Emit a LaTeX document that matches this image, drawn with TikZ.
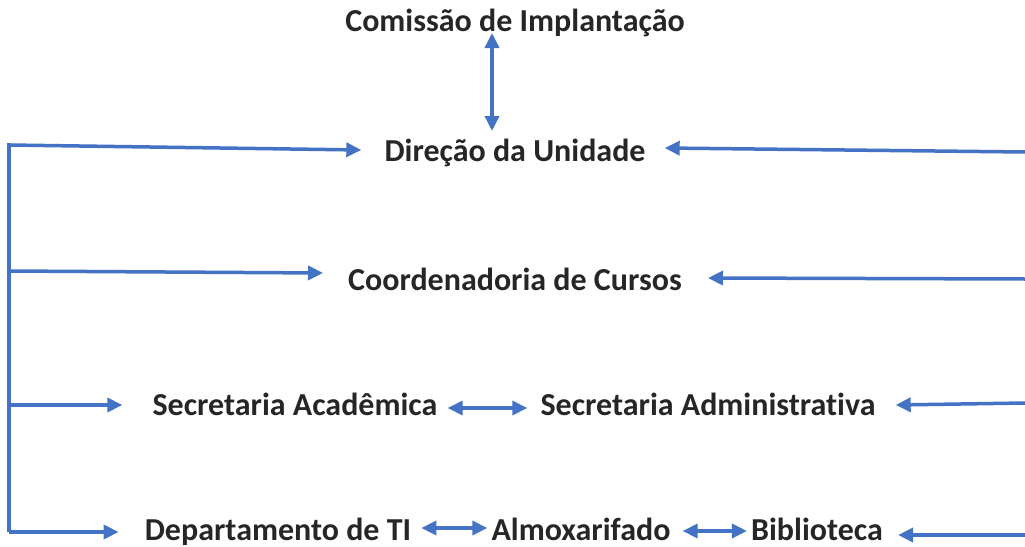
\documentclass[tikz,border=0pt]{standalone}
\usepackage{fontspec}
\setmainfont{Carlito}[Ligatures={NoCommon}]
\usetikzlibrary{arrows.meta,calc}
\definecolor{txt}{HTML}{262626}
\definecolor{ln}{HTML}{4472C4}
\tikzset{
  lbl/.style={font=\fontsize{32}{36}\selectfont\bfseries, text=txt, inner sep=0pt, anchor=base},
  conn/.style={draw=ln, line width=3.5pt, -{Triangle[length=15pt,width=14pt]}},
  dconn/.style={draw=ln, line width=3.5pt, {Triangle[length=15pt,width=14pt]}-{Triangle[length=15pt,width=14pt]}},
  bar/.style={draw=ln, line width=3.5pt}
}
\begin{document}
\begin{tikzpicture}[x=1pt,y=-1pt]
\useasboundingbox (0,0) rectangle (1025,546);
\node[lbl] (comissao) at (515,31) {Comissão de Implantação};
\node[lbl] (direcao) at (515,161) {Direção da Unidade};
\node[lbl] (coord) at (515,290) {Coordenadoria de Cursos};
\node[lbl] (secac) at (295,415) {Secretaria Acadêmica};
\node[lbl] (secadm) at (708,415) {Secretaria Administrativa};
\node[lbl] (depto) at (278,540) {Departamento de TI};
\node[lbl] (almox) at (581,540) {Almoxarifado};
\node[lbl] (biblio) at (817,540) {Biblioteca};
% free ends
\coordinate (btop) at (9,143);
\coordinate (b1) at (9,145);
\coordinate (b2) at (9,271);
\coordinate (b3) at (9,405);
\coordinate (b4) at (9,532);
\coordinate (r1) at (1025,152);
\coordinate (r2) at (1025,279);
\coordinate (r3) at (1025,403);
\coordinate (r4) at (1025,535);
\coordinate (vtop) at (492,33);
\coordinate (vbot) at (492,131);
% vertical double arrow
\draw[dconn] (vtop) -- (vbot);
% left bracket
\draw[bar] (btop) -- (b4);
\draw[conn] (b1) -- ([xshift=-23pt,yshift=11pt]direcao.base west);
\draw[conn] (b2) -- ([xshift=-25pt,yshift=17pt]coord.base west);
\draw[conn] (b3) -- ([xshift=-30pt,yshift=10pt]secac.base west);
\draw[conn] (b4) -- ([xshift=-26pt,yshift=8pt]depto.base west);
% right arrows
\draw[conn] (r1) -- ([xshift=19pt,yshift=13pt]direcao.base east);
\draw[conn] (r2) -- ([xshift=26pt,yshift=12pt]coord.base east);
\draw[conn] (r3) -- ([xshift=20pt,yshift=10pt]secadm.base east);
\draw[conn] (r4) -- ([xshift=15pt,yshift=5pt]biblio.base east);
% horizontal double arrows
\draw[dconn] ([xshift=10pt,yshift=7pt]secac.base east) -- ([xshift=-13pt,yshift=7pt]secadm.base west);
\draw[dconn] ([xshift=10pt,yshift=12pt]depto.base east) -- ([xshift=-4pt,yshift=12pt]almox.base west);
\draw[dconn] ([xshift=12pt,yshift=9pt]almox.base east) -- ([xshift=-4pt,yshift=9pt]biblio.base west);
\end{tikzpicture}
\end{document}
